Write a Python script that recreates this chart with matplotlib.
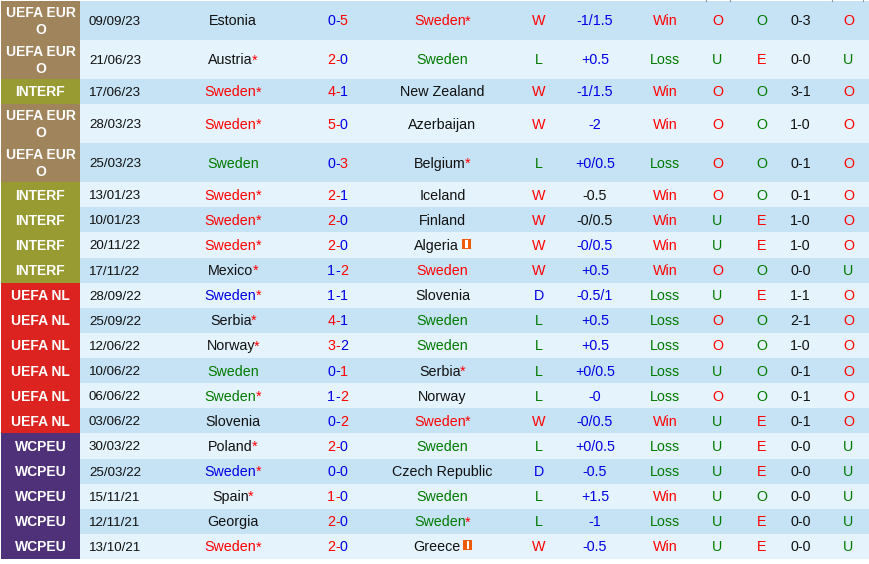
#
# Sweden recent results table, drawn as text on coloured bands
#

import matplotlib
matplotlib.use('Agg')
import matplotlib.pyplot as plt
from matplotlib.patches import Rectangle

# one entry per match, newest first
leagues = ['EURO', 'EURO', 'INTERF', 'EURO', 'EURO', 'INTERF', 'INTERF', 'INTERF', 'INTERF',
           'NL', 'NL', 'NL', 'NL', 'NL', 'NL', 'WCPEU', 'WCPEU', 'WCPEU', 'WCPEU', 'WCPEU']
dates = ['09/09/23', '21/06/23', '17/06/23', '28/03/23', '25/03/23', '13/01/23', '10/01/23',
         '20/11/22', '17/11/22', '28/09/22', '25/09/22', '12/06/22', '10/06/22', '06/06/22',
         '03/06/22', '30/03/22', '25/03/22', '15/11/21', '12/11/21', '13/10/21']
homeTeams = ['Estonia', 'Austria*', 'Sweden*', 'Sweden*', 'Sweden', 'Sweden*', 'Sweden*',
             'Sweden*', 'Mexico*', 'Sweden*', 'Serbia*', 'Norway*', 'Sweden', 'Sweden*',
             'Slovenia', 'Poland*', 'Sweden*', 'Spain*', 'Georgia', 'Sweden*']
awayTeams = ['Sweden*', 'Sweden', 'New Zealand', 'Azerbaijan', 'Belgium*', 'Iceland', 'Finland',
             'Algeria!', 'Sweden', 'Slovenia', 'Sweden', 'Sweden', 'Serbia*', 'Norway',
             'Sweden*', 'Sweden', 'Czech Republic', 'Sweden', 'Sweden*', 'Greece!']
homeGoals = [0, 2, 4, 5, 0, 2, 2, 2, 1, 1, 4, 3, 0, 1, 0, 2, 0, 1, 2, 2]
awayGoals = [5, 0, 1, 0, 3, 1, 0, 0, 2, 1, 1, 2, 1, 2, 2, 0, 0, 0, 0, 0]
outcomes = ['W', 'L', 'W', 'W', 'L', 'W', 'W', 'W', 'W', 'D',
            'L', 'L', 'L', 'L', 'W', 'L', 'D', 'L', 'L', 'W']
handicaps = ['-1/1.5', '+0.5', '-1/1.5', '-2', '+0/0.5', '-0.5', '-0/0.5', '-0/0.5', '+0.5',
             '-0.5/1', '+0.5', '+0.5', '+0/0.5', '-0', '-0/0.5', '+0/0.5', '-0.5', '+1.5',
             '-1', '-0.5']
# the two handicaps that are printed in black
blackHandicaps = ['13/01/23', '10/01/23']
handicapResults = ['Win', 'Loss', 'Win', 'Win', 'Loss', 'Win', 'Win', 'Win', 'Win', 'Loss',
                   'Loss', 'Loss', 'Loss', 'Loss', 'Win', 'Loss', 'Loss', 'Win', 'Loss', 'Win']
overUnder = ['O', 'U', 'O', 'O', 'O', 'O', 'U', 'U', 'O', 'U',
             'O', 'O', 'U', 'O', 'U', 'U', 'U', 'U', 'U', 'U']
oddEven = ['O', 'E', 'O', 'O', 'O', 'O', 'E', 'E', 'O', 'E',
           'O', 'O', 'O', 'O', 'E', 'E', 'E', 'O', 'E', 'E']
halfTime = ['0-3', '0-0', '3-1', '1-0', '0-1', '0-1', '1-0', '1-0', '0-0', '1-1',
            '2-1', '1-0', '0-1', '0-1', '0-1', '0-0', '0-0', '0-0', '0-0', '0-0']
halfOverUnder = ['O', 'U', 'O', 'O', 'O', 'O', 'O', 'O', 'U', 'O',
                 'O', 'O', 'O', 'O', 'O', 'U', 'U', 'U', 'U', 'U']

# league label text and band colour
leagueText = {'EURO': 'UEFA EUR\nO', 'INTERF': 'INTERF', 'NL': 'UEFA NL', 'WCPEU': 'WCPEU'}
leagueColor = {'EURO': '#A0845C', 'INTERF': '#979B32', 'NL': '#DC231F', 'WCPEU': '#4E3178'}

RED = '#FF0000'
BLUE = '#0000E6'
GREEN = '#007A00'
BLACK = '#111111'
DARKROW = '#C6E2F5'
LITEROW = '#E4F3FC'
outcomeColor = {'W': RED, 'L': GREEN, 'D': BLUE}
ouColor = {'O': RED, 'U': GREEN}
oeColor = {'O': GREEN, 'E': RED}

TALL = 39.0
SHORT = 25.13
TEXTSIZE = 10.3
LEAGUESIZE = 10.0
plt.rcParams['font.family'] = ['Liberation Sans', 'DejaVu Sans']

fig = plt.figure(figsize=(8.7, 5.64), dpi=100)
ax = fig.add_axes([0, 0, 1, 1])
ax.set_xlim(0, 870)
ax.set_ylim(564, 0)
ax.axis('off')
renderer = fig.canvas.get_renderer()


def drawPieces(xc, y, pieces, flag=False, squeeze=0):
  # several colours on one centred line - draw, measure, then shift into place
  texts = [ax.text(0, y, s, color=c, fontsize=TEXTSIZE, va='baseline', ha='left') for s, c in pieces]
  widths = [t.get_window_extent(renderer).width - squeeze for t in texts]
  total = sum(widths) + (12 if flag else 0)
  x = xc - total / 2
  for t, w in zip(texts, widths):
    t.set_x(x)
    x += w
  if flag:
    # little orange neutral ground box after the name
    ax.add_patch(Rectangle((x + 4, y - 11), 9, 10, fc='#F05A0A', ec='none'))
    ax.add_patch(Rectangle((x + 7.4, y - 10), 2.2, 8, fc='white', ec='none'))


def teamPieces(name, color):
  # Sweden takes the outcome colour, the star is always red
  flag = name.endswith('!')
  name = name.rstrip('!')
  star = name.endswith('*')
  name = name.rstrip('*')
  c = color if name == 'Sweden' else BLACK
  pieces = [(name, c)]
  if star:
    pieces.append(('*', RED))
  return pieces, flag


def goalColor(a, b):
  return RED if a > b else BLUE


top = 1.0
for i in range(len(dates)):
  h = TALL if leagues[i] == 'EURO' else SHORT
  mid = top + h / 2
  base = mid + 4.9

  ax.add_patch(Rectangle((80, top), 790, h, fc=DARKROW if i % 2 == 0 else LITEROW, ec='none'))
  ax.add_patch(Rectangle((1, top), 79, h, fc=leagueColor[leagues[i]], ec='none'))

  label = leagueText[leagues[i]]
  if '\n' in label:
    first, second = label.split('\n')
    ax.text(40.5, mid - 3.8, first, color='white', fontweight='bold', fontsize=LEAGUESIZE, ha='center', va='baseline')
    ax.text(40.5, mid + 13.5, second, color='white', fontweight='bold', fontsize=LEAGUESIZE, ha='center', va='baseline')
  else:
    ax.text(40.5, base, label, color='white', fontweight='bold', fontsize=LEAGUESIZE, ha='center', va='baseline')

  ax.text(115, base - 0.4, dates[i], color=BLACK, fontsize=9.6, ha='center', va='baseline')

  swedenColor = outcomeColor[outcomes[i]]
  pieces, flag = teamPieces(homeTeams[i], swedenColor)
  drawPieces(232.5, base, pieces, flag, squeeze=1)
  pieces, flag = teamPieces(awayTeams[i], swedenColor)
  drawPieces(442, base, pieces, flag, squeeze=1)

  # score, each side coloured by who got more
  a, b = homeGoals[i], awayGoals[i]
  drawPieces(337.5, base, [(str(a), goalColor(a, b)), ('-', BLUE if a <= b else RED), (str(b), goalColor(b, a))])

  ax.text(539, base, outcomes[i], color=swedenColor, fontsize=TEXTSIZE, ha='center', va='baseline')
  hcColor = BLACK if dates[i] in blackHandicaps else BLUE
  ax.text(595, base, handicaps[i], color=hcColor, fontsize=TEXTSIZE, ha='center', va='baseline')
  resColor = RED if handicapResults[i] == 'Win' else GREEN
  ax.text(665, base, handicapResults[i], color=resColor, fontsize=TEXTSIZE, ha='center', va='baseline')
  ax.text(717.5, base, overUnder[i], color=ouColor[overUnder[i]], fontsize=TEXTSIZE, ha='center', va='baseline')
  ax.text(761.5, base, oddEven[i], color=oeColor[oddEven[i]], fontsize=TEXTSIZE, ha='center', va='baseline')
  ax.text(800.5, base, halfTime[i], color=BLACK, fontsize=TEXTSIZE, ha='center', va='baseline')
  ax.text(848.5, base, halfOverUnder[i], color=ouColor[halfOverUnder[i]], fontsize=TEXTSIZE, ha='center', va='baseline')

  top += h

# bottoms of the clipped header text above the first row
ax.vlines([706, 730, 832.5, 863.5], 0, 1, color='#333333', lw=0.8)

fig.savefig('out.png', dpi=100, facecolor='white')
